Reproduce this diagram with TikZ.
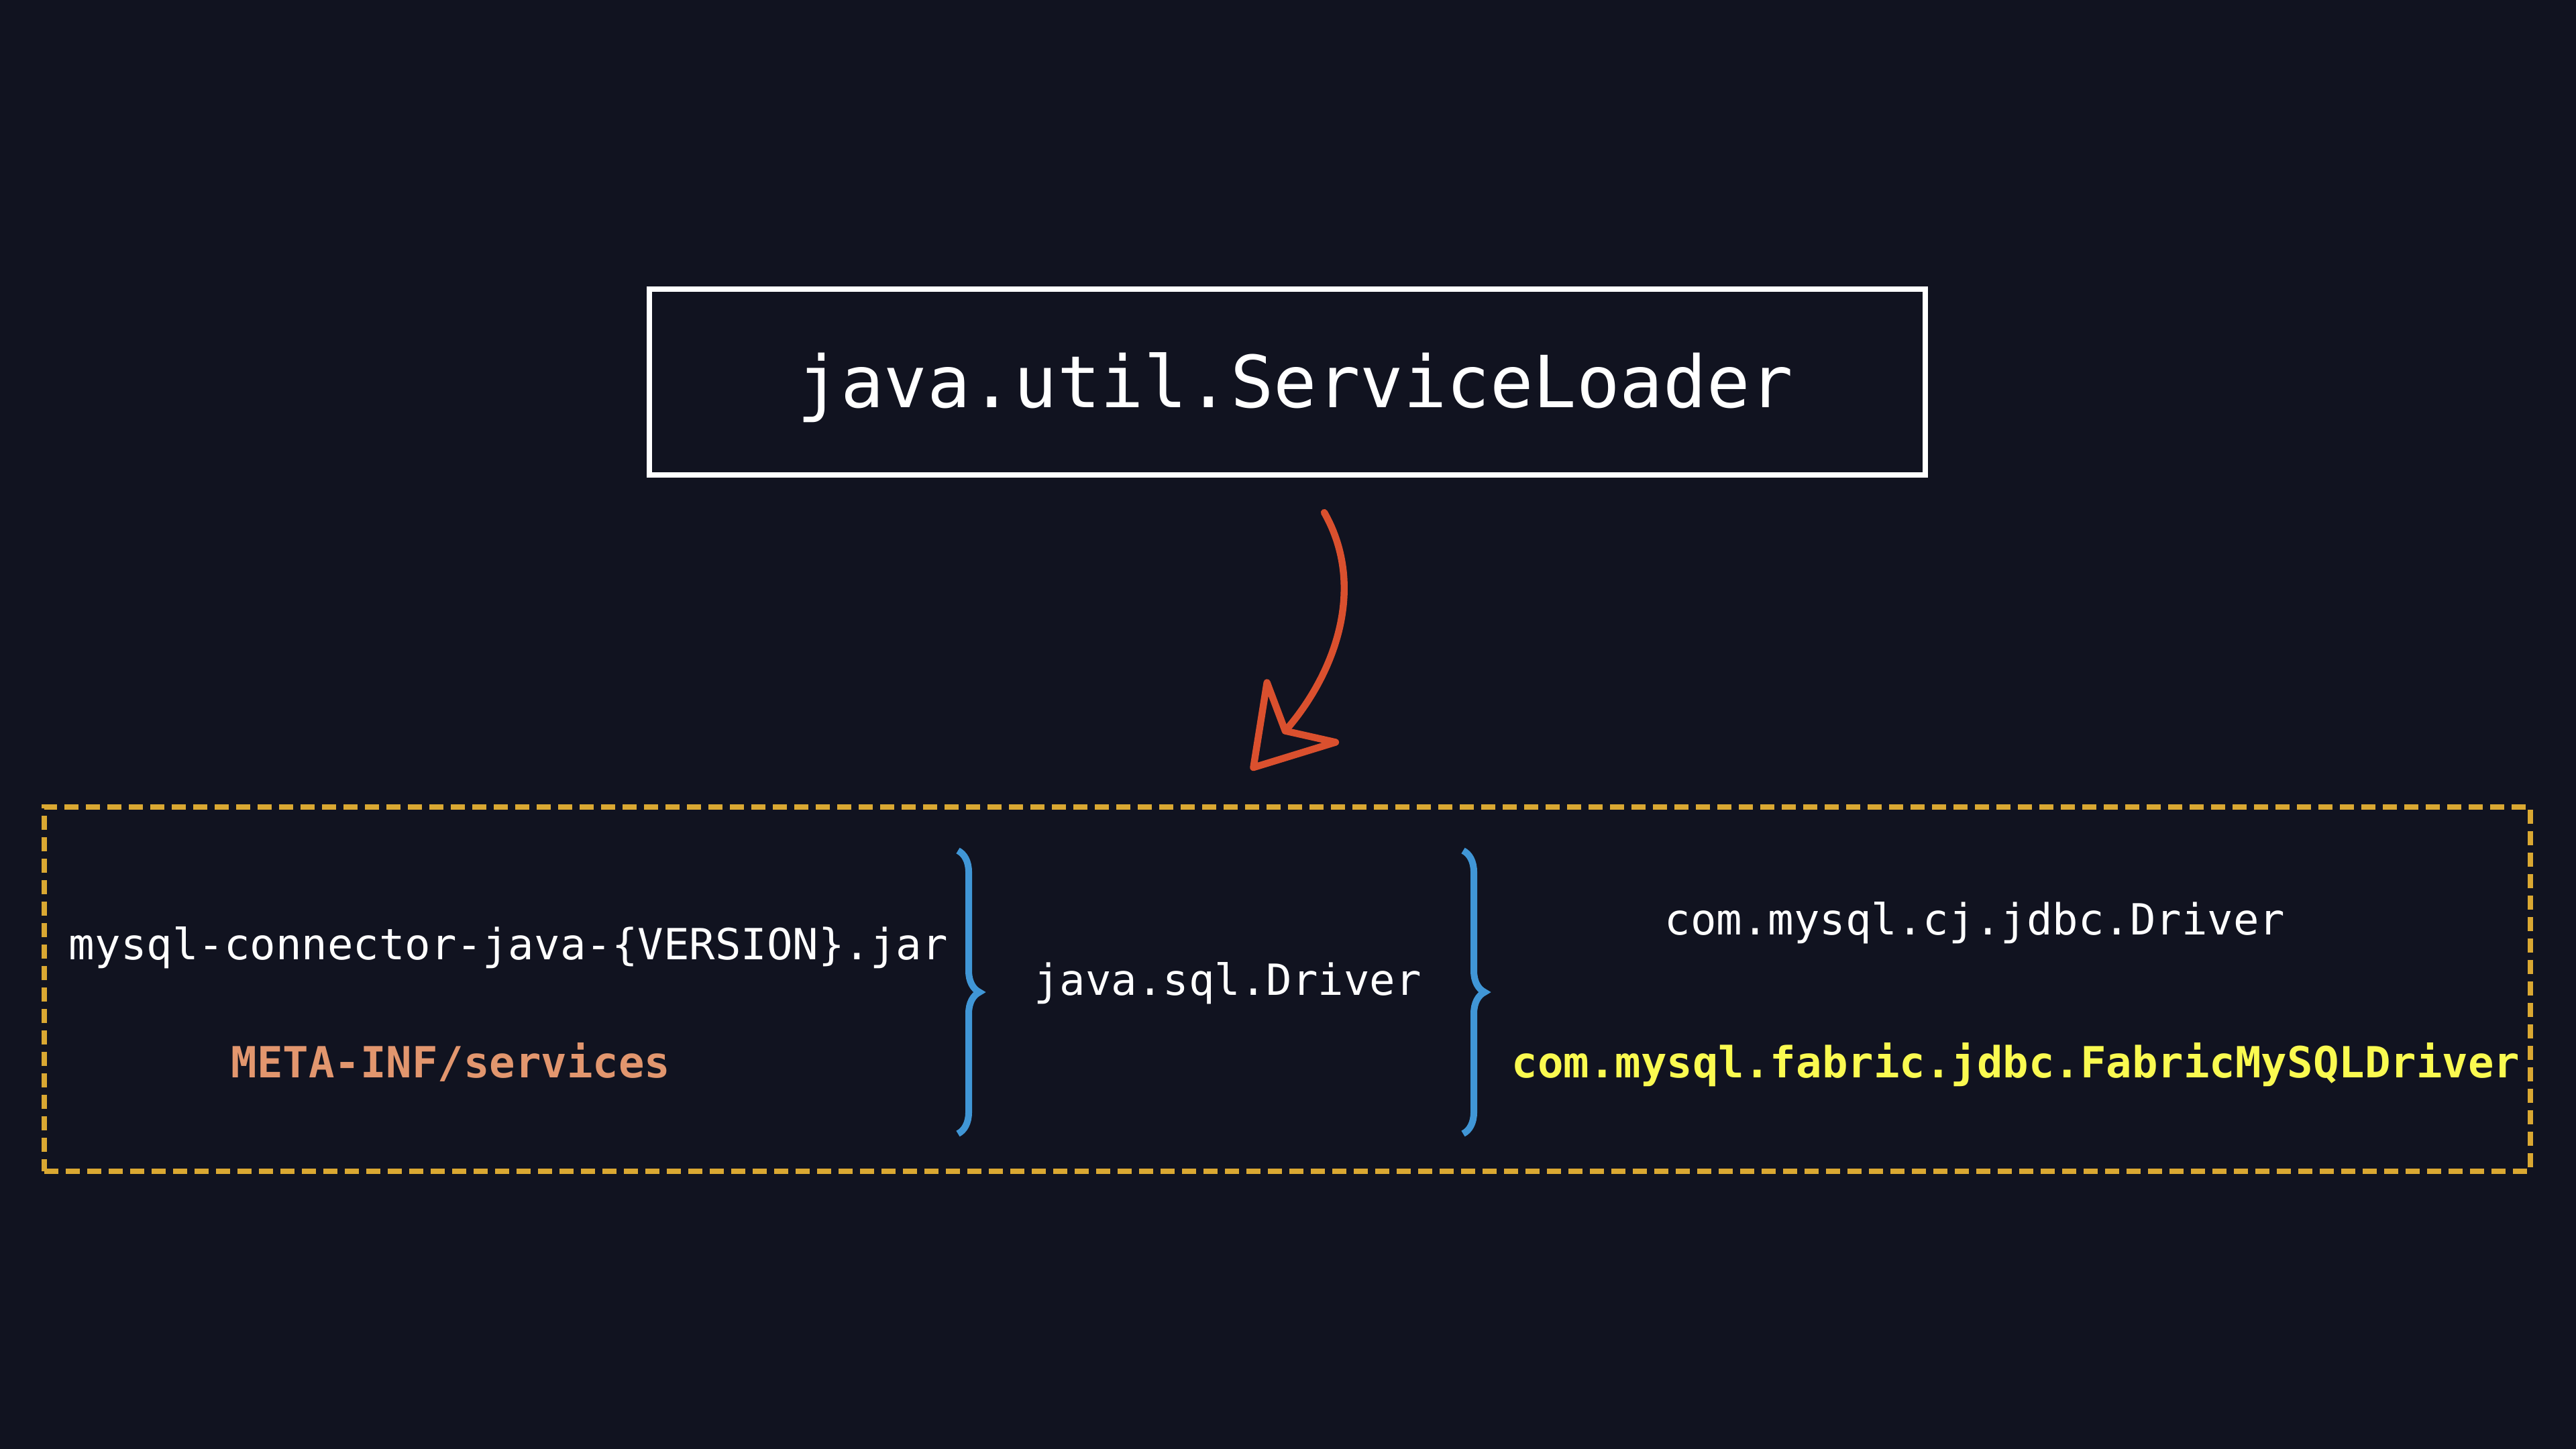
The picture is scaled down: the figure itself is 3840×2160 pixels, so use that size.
\documentclass[tikz,border=0pt]{standalone}
\usepackage{fontspec}
\setmonofont{DejaVu Sans Mono}
\usepackage{tikz}
\usepackage{xcolor}
\usetikzlibrary{arrows.meta,decorations.pathreplacing}
\definecolor{bgdark}{RGB}{17,19,32}
\definecolor{arrowred}{RGB}{218,80,46}
\definecolor{jargold}{RGB}{218,168,50}
\definecolor{metasalmon}{RGB}{226,150,110}
\definecolor{braceblue}{RGB}{64,150,214}
\definecolor{impyellow}{RGB}{250,250,80}

\begin{document}
\begin{tikzpicture}[x=0.25pt,y=-0.25pt,
  mono/.style={font=\ttfamily\fontsize{16pt}{19pt}\selectfont},
  loaderbox/.style={draw=white,line width=2pt,inner sep=0pt,
    minimum width=475.5pt,minimum height=69.25pt,text=white,
    text height=24pt,text depth=5pt,
    font=\ttfamily\fontsize{26.8pt}{30pt}\selectfont},
  jarbox/.style={draw=jargold,line width=1.8pt,dash pattern=on 5.25pt off 2.75pt,
    inner sep=0pt,minimum width=926.5pt,minimum height=135.75pt},
  pointer/.style={draw=arrowred,line width=2.6pt,line cap=round,
    -{Stealth[open,round,length=33pt,width=41pt,inset=11pt]}},
  bracepath/.style={draw=braceblue,line width=2.5pt,decorate,
    decoration={brace,amplitude=8pt,aspect=0.5}}]
\fill[bgdark] (0,0) rectangle (3840,2160);
\useasboundingbox (0,0) rectangle (3840,2160);
%
\node[loaderbox] (loader) at (1919,570) {\hspace*{6pt}java.util.ServiceLoader};
\node[jarbox] (jar) at (1919,1474.5) {};
%
\coordinate (arrowstart) at (1974,764);
\coordinate (arrowend) at (1865,1148);
\draw[pointer] (arrowstart) .. controls (2040,880) and (1985,1010) .. (arrowend);
%
\node[mono,text=white,anchor=base] (jarname) at (758,1430) {mysql-connector-java-\{VERSION\}.jar};
\node[mono,text=metasalmon,font=\ttfamily\bfseries\fontsize{16pt}{19pt}\selectfont,anchor=base] (metainf) at (672,1606) {META-INF/services};
\node[mono,text=white,anchor=base] (spi) at (1830,1483) {java.sql.Driver};
\node[mono,text=white,anchor=base] (cjdriver) at (2944,1393) {com.mysql.cj.jdbc.Driver};
\node[mono,text=impyellow,font=\ttfamily\bfseries\fontsize{16pt}{19pt}\selectfont,anchor=base] (fabric) at (3005,1606) {com.mysql.fabric.jdbc.FabricMySQLDriver};
%
\coordinate (leftbracetop) at (1428,1268);
\coordinate (leftbracebot) at (1428,1690);
\coordinate (rightbracetop) at (2181,1268);
\coordinate (rightbracebot) at (2181,1690);
\draw[bracepath] (leftbracetop) -- (leftbracebot);
\draw[bracepath] (rightbracetop) -- (rightbracebot);
\end{tikzpicture}
\end{document}
